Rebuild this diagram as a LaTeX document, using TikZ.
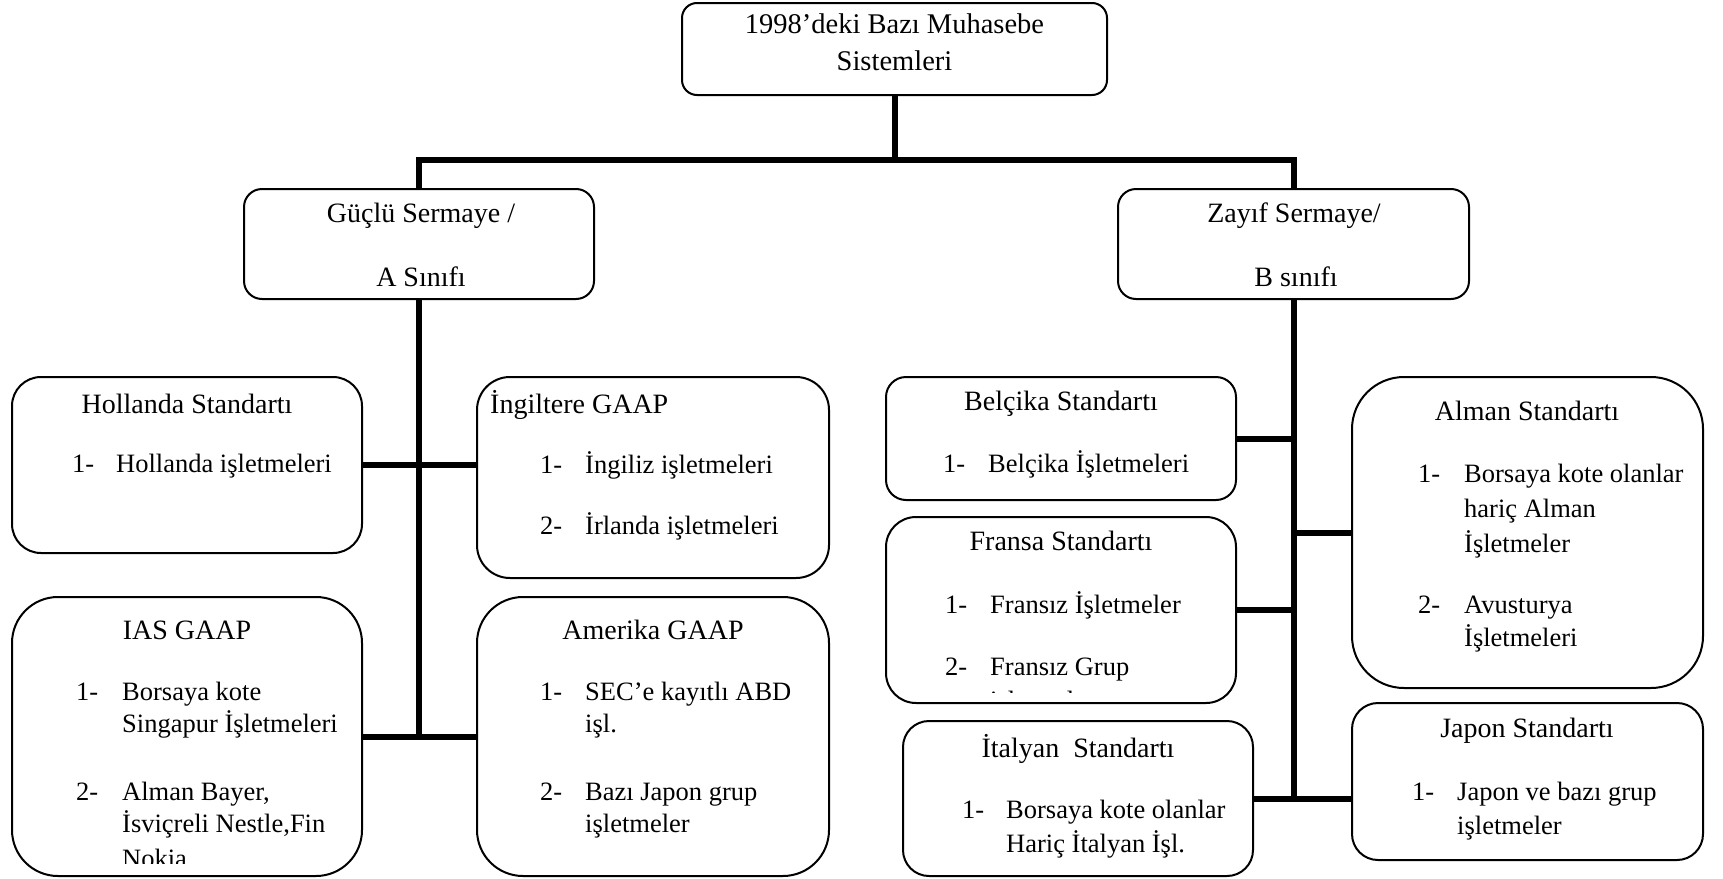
\documentclass[tikz,border=0pt]{standalone}
\usepackage{fontspec}
\setmainfont{Liberation Serif}
\tikzset{
  kutu/.style={draw, line width=2pt, rounded corners=#1, inner sep=0pt},
  yazi/.style={inner sep=0pt, font=\fontsize{28}{32}\selectfont},
  baslik/.style={yazi, anchor=base},
  madde/.style={inner sep=0pt, anchor=base west, font=\fontsize{26.5}{31}\selectfont},
  hat/.style={line width=6pt}
}
\begin{document}
\begin{tikzpicture}[x=1pt,y=-1pt]
\useasboundingbox (0,0) rectangle (1723,878);
\node[kutu=15, minimum width=425pt, minimum height=92pt] (top) at (894.5,49) {};
\node[kutu=18, minimum width=350pt, minimum height=110pt] (guclu) at (419,244) {};
\node[kutu=18, minimum width=351pt, minimum height=110pt] (zayif) at (1293.5,244) {};
\node[kutu=29, minimum width=350pt, minimum height=176pt] (hollanda) at (187,465) {};
\node[kutu=33, minimum width=352pt, minimum height=201pt] (ingiltere) at (653,477.5) {};
\node[kutu=46, minimum width=350pt, minimum height=279pt] (ias) at (187,736.5) {};
\node[kutu=46, minimum width=352pt, minimum height=279pt] (amerika) at (653,736.5) {};
\node[kutu=20, minimum width=350pt, minimum height=123pt] (belcika) at (1061,438.5) {};
\node[kutu=30, minimum width=350pt, minimum height=186pt] (fransa) at (1061,610) {};
\node[kutu=26, minimum width=350pt, minimum height=155pt] (italyan) at (1078,798.5) {};
\node[kutu=52, minimum width=351pt, minimum height=311pt] (alman) at (1527.5,532.5) {};
\node[kutu=26, minimum width=351pt, minimum height=157pt] (japon) at (1527.5,781.5) {};

\coordinate (yatay) at (894.5,160);
\draw[hat] (top.south) -- (yatay);
\draw[hat] (guclu.north) -- (guclu.north |- yatay) -- (zayif.north |- yatay) -- (zayif.north);
\draw[hat] (guclu.south) -- (guclu.south |- ias.east);
\draw[hat] (hollanda.east) -- (ingiltere.west |- hollanda.east);
\draw[hat] (ias.east) -- (amerika.west);
\draw[hat] (zayif.south) -- (zayif.south |- italyan.east);
\foreach \k in {belcika,fransa} \draw[hat] (\k.east) -- (\k.east -| zayif.south);
\draw[hat] (alman.west) -- (alman.west -| zayif.south);
\draw[hat] (italyan.east) -- (italyan.east -| japon.west);

\node[baslik] (top1) at (894.5,33) {\fontsize{28.5}{32}\selectfont 1998’deki Bazı Muhasebe};
\node[baslik] (top2) at (894.5,70) {\fontsize{28.5}{32}\selectfont Sistemleri};
\node[baslik] (guclu1) at (421,222) {Güçlü Sermaye /};
\node[baslik] (guclu2) at (421,286) {A Sınıfı};
\node[baslik] (zayif1) at (1294,222) {Zayıf Sermaye/};
\node[baslik] (zayif2) at (1296,286) {B sınıfı};

\node[baslik] (hol0) at (187,413) {Hollanda Standartı};
\node[madde] (hol1n) at (72,472) {1-};
\node[madde] (hol1) at (116,472) {Hollanda işletmeleri};

\node[madde, font=\fontsize{28}{32}\selectfont] (ing0) at (490,413) {İngiltere GAAP};
\node[madde] (ing1n) at (540,473) {1-};
\node[madde] (ing1) at (585,473) {İngiliz işletmeleri};
\node[madde] (ing2n) at (540,534) {2-};
\node[madde] (ing2) at (585,534) {İrlanda işletmeleri};

\begin{scope}
\clip (12,597) rectangle (362,863);
\node[baslik] (ias0) at (187,639) {IAS GAAP};
\node[madde] (ias1n) at (76,700) {1-};
\node[madde] (ias1a) at (122,700) {Borsaya kote};
\node[madde] (ias1b) at (122,732) {Singapur İşletmeleri};
\node[madde] (ias2n) at (76,800) {2-};
\node[madde] (ias2a) at (122,800) {Alman Bayer,};
\node[madde] (ias2b) at (122,832) {İsviçreli Nestle,Fin};
\node[madde] (ias2c) at (122,867) {Nokia};
\end{scope}

\node[baslik] (ame0) at (653,639) {Amerika GAAP};
\node[madde] (ame1n) at (540,700) {1-};
\node[madde] (ame1a) at (585,700) {SEC’e kayıtlı ABD};
\node[madde] (ame1b) at (585,732) {işl.};
\node[madde] (ame2n) at (540,800) {2-};
\node[madde] (ame2a) at (585,800) {Bazı Japon grup};
\node[madde] (ame2b) at (585,832) {işletmeler};

\node[baslik] (bel0) at (1061,410) {Belçika Standartı};
\node[madde] (bel1n) at (943,472) {1-};
\node[madde] (bel1) at (988,472) {Belçika İşletmeleri};

\begin{scope}
\clip (886,516) rectangle (1236,692);
\node[baslik] (fra0) at (1061,550) {Fransa Standartı};
\node[madde] (fra1n) at (945,613) {1-};
\node[madde] (fra1) at (990,613) {Fransız İşletmeler};
\node[madde] (fra2n) at (945,675) {2-};
\node[madde] (fra2a) at (990,675) {Fransız Grup};
\node[madde] (fra2b) at (990,709) {işletmeler};
\end{scope}

\node[baslik] (ita0) at (1078,757) {İtalyan\ \ Standartı};
\node[madde] (ita1n) at (962,818) {1-};
\node[madde] (ita1a) at (1006,818) {Borsaya kote olanlar};
\node[madde] (ita1b) at (1006,852) {Hariç İtalyan İşl.};

\node[baslik] (alm0) at (1527,420) {Alman Standartı};
\node[madde] (alm1n) at (1418,482) {1-};
\node[madde] (alm1a) at (1464,482) {Borsaya kote olanlar};
\node[madde] (alm1b) at (1464,517) {hariç Alman};
\node[madde] (alm1c) at (1464,552) {İşletmeler};
\node[madde] (alm2n) at (1418,613) {2-};
\node[madde] (alm2a) at (1464,613) {Avusturya};
\node[madde] (alm2b) at (1464,646) {İşletmeleri};

\node[baslik] (jap0) at (1527,737) {Japon Standartı};
\node[madde] (jap1n) at (1412,800) {1-};
\node[madde] (jap1a) at (1457,800) {Japon ve bazı grup};
\node[madde] (jap1b) at (1457,834) {işletmeler};
\end{tikzpicture}
\end{document}
